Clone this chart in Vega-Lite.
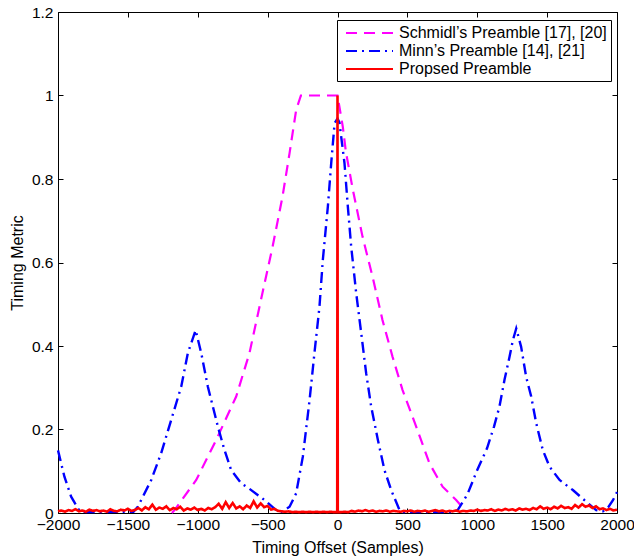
{
  "$schema": "https://vega.github.io/schema/vega-lite/v6.json",
  "width": 559,
  "height": 501,
  "autosize": {"type": "none"},
  "padding": {"left": 58, "top": 12, "right": 17, "bottom": 46},
  "background": "white",
  "config": {
    "font": "Liberation Sans",
    "view": {"stroke": "black", "strokeWidth": 1},
    "axis": {
      "domain": false,
      "grid": false,
      "tickSize": -5,
      "tickColor": "black",
      "tickWidth": 1,
      "labelFont": "Liberation Sans",
      "labelFontSize": 15.5,
      "labelColor": "black",
      "titleFont": "Liberation Sans",
      "titleFontSize": 16,
      "titleFontWeight": "normal",
      "titleColor": "black"
    }
  },
  "data": {
    "values": [
      {"series": "Schmidl’s Preamble [17], [20]", "x": -1185, "y": 0.0},
      {"series": "Schmidl’s Preamble [17], [20]", "x": -1166, "y": 0.007},
      {"series": "Schmidl’s Preamble [17], [20]", "x": -1011, "y": 0.079},
      {"series": "Schmidl’s Preamble [17], [20]", "x": -868, "y": 0.175},
      {"series": "Schmidl’s Preamble [17], [20]", "x": -725, "y": 0.279},
      {"series": "Schmidl’s Preamble [17], [20]", "x": -630, "y": 0.383},
      {"series": "Schmidl’s Preamble [17], [20]", "x": -537, "y": 0.527},
      {"series": "Schmidl’s Preamble [17], [20]", "x": -465, "y": 0.637},
      {"series": "Schmidl’s Preamble [17], [20]", "x": -394, "y": 0.757},
      {"series": "Schmidl’s Preamble [17], [20]", "x": -343, "y": 0.862},
      {"series": "Schmidl’s Preamble [17], [20]", "x": -296, "y": 0.965},
      {"series": "Schmidl’s Preamble [17], [20]", "x": -262, "y": 1.0},
      {"series": "Schmidl’s Preamble [17], [20]", "x": 0, "y": 1.0},
      {"series": "Schmidl’s Preamble [17], [20]", "x": 38, "y": 0.925},
      {"series": "Schmidl’s Preamble [17], [20]", "x": 60, "y": 0.865},
      {"series": "Schmidl’s Preamble [17], [20]", "x": 110, "y": 0.774},
      {"series": "Schmidl’s Preamble [17], [20]", "x": 179, "y": 0.662},
      {"series": "Schmidl’s Preamble [17], [20]", "x": 251, "y": 0.566},
      {"series": "Schmidl’s Preamble [17], [20]", "x": 322, "y": 0.462},
      {"series": "Schmidl’s Preamble [17], [20]", "x": 394, "y": 0.374},
      {"series": "Schmidl’s Preamble [17], [20]", "x": 465, "y": 0.295},
      {"series": "Schmidl’s Preamble [17], [20]", "x": 563, "y": 0.207},
      {"series": "Schmidl’s Preamble [17], [20]", "x": 658, "y": 0.119},
      {"series": "Schmidl’s Preamble [17], [20]", "x": 752, "y": 0.063},
      {"series": "Schmidl’s Preamble [17], [20]", "x": 849, "y": 0.031},
      {"series": "Schmidl’s Preamble [17], [20]", "x": 921, "y": 0.003},

      {"series": "Minn’s Preamble [14], [21]", "x": -2000, "y": 0.15},
      {"series": "Minn’s Preamble [14], [21]", "x": -1954, "y": 0.087},
      {"series": "Minn’s Preamble [14], [21]", "x": -1906, "y": 0.039},
      {"series": "Minn’s Preamble [14], [21]", "x": -1846, "y": 0.005},
      {"series": "Minn’s Preamble [14], [21]", "x": -1800, "y": 0.002},
      {"series": "Minn’s Preamble [14], [21]", "x": -1460, "y": 0.003},
      {"series": "Minn’s Preamble [14], [21]", "x": -1429, "y": 0.015},
      {"series": "Minn’s Preamble [14], [21]", "x": -1333, "y": 0.079},
      {"series": "Minn’s Preamble [14], [21]", "x": -1262, "y": 0.143},
      {"series": "Minn’s Preamble [14], [21]", "x": -1190, "y": 0.223},
      {"series": "Minn’s Preamble [14], [21]", "x": -1118, "y": 0.303},
      {"series": "Minn’s Preamble [14], [21]", "x": -1071, "y": 0.383},
      {"series": "Minn’s Preamble [14], [21]", "x": -1015, "y": 0.438},
      {"series": "Minn’s Preamble [14], [21]", "x": -975, "y": 0.383},
      {"series": "Minn’s Preamble [14], [21]", "x": -928, "y": 0.303},
      {"series": "Minn’s Preamble [14], [21]", "x": -856, "y": 0.207},
      {"series": "Minn’s Preamble [14], [21]", "x": -809, "y": 0.151},
      {"series": "Minn’s Preamble [14], [21]", "x": -761, "y": 0.103},
      {"series": "Minn’s Preamble [14], [21]", "x": -689, "y": 0.071},
      {"series": "Minn’s Preamble [14], [21]", "x": -630, "y": 0.058},
      {"series": "Minn’s Preamble [14], [21]", "x": -522, "y": 0.031},
      {"series": "Minn’s Preamble [14], [21]", "x": -439, "y": 0.007},
      {"series": "Minn’s Preamble [14], [21]", "x": -400, "y": 0.003},
      {"series": "Minn’s Preamble [14], [21]", "x": -343, "y": 0.015},
      {"series": "Minn’s Preamble [14], [21]", "x": -296, "y": 0.047},
      {"series": "Minn’s Preamble [14], [21]", "x": -248, "y": 0.135},
      {"series": "Minn’s Preamble [14], [21]", "x": -200, "y": 0.27},
      {"series": "Minn’s Preamble [14], [21]", "x": -165, "y": 0.383},
      {"series": "Minn’s Preamble [14], [21]", "x": -129, "y": 0.494},
      {"series": "Minn’s Preamble [14], [21]", "x": -105, "y": 0.606},
      {"series": "Minn’s Preamble [14], [21]", "x": -69, "y": 0.734},
      {"series": "Minn’s Preamble [14], [21]", "x": -45, "y": 0.838},
      {"series": "Minn’s Preamble [14], [21]", "x": -21, "y": 0.933},
      {"series": "Minn’s Preamble [14], [21]", "x": 0, "y": 0.945},
      {"series": "Minn’s Preamble [14], [21]", "x": 14, "y": 0.935},
      {"series": "Minn’s Preamble [14], [21]", "x": 50, "y": 0.838},
      {"series": "Minn’s Preamble [14], [21]", "x": 74, "y": 0.734},
      {"series": "Minn’s Preamble [14], [21]", "x": 98, "y": 0.638},
      {"series": "Minn’s Preamble [14], [21]", "x": 134, "y": 0.526},
      {"series": "Minn’s Preamble [14], [21]", "x": 170, "y": 0.43},
      {"series": "Minn’s Preamble [14], [21]", "x": 205, "y": 0.335},
      {"series": "Minn’s Preamble [14], [21]", "x": 241, "y": 0.255},
      {"series": "Minn’s Preamble [14], [21]", "x": 289, "y": 0.175},
      {"series": "Minn’s Preamble [14], [21]", "x": 336, "y": 0.103},
      {"series": "Minn’s Preamble [14], [21]", "x": 384, "y": 0.055},
      {"series": "Minn’s Preamble [14], [21]", "x": 444, "y": 0.007},
      {"series": "Minn’s Preamble [14], [21]", "x": 470, "y": 0.002},
      {"series": "Minn’s Preamble [14], [21]", "x": 830, "y": 0.002},
      {"series": "Minn’s Preamble [14], [21]", "x": 860, "y": 0.007},
      {"series": "Minn’s Preamble [14], [21]", "x": 930, "y": 0.045},
      {"series": "Minn’s Preamble [14], [21]", "x": 1000, "y": 0.103},
      {"series": "Minn’s Preamble [14], [21]", "x": 1070, "y": 0.155},
      {"series": "Minn’s Preamble [14], [21]", "x": 1120, "y": 0.207},
      {"series": "Minn’s Preamble [14], [21]", "x": 1159, "y": 0.255},
      {"series": "Minn’s Preamble [14], [21]", "x": 1195, "y": 0.319},
      {"series": "Minn’s Preamble [14], [21]", "x": 1231, "y": 0.374},
      {"series": "Minn’s Preamble [14], [21]", "x": 1255, "y": 0.414},
      {"series": "Minn’s Preamble [14], [21]", "x": 1279, "y": 0.442},
      {"series": "Minn’s Preamble [14], [21]", "x": 1314, "y": 0.398},
      {"series": "Minn’s Preamble [14], [21]", "x": 1350, "y": 0.326},
      {"series": "Minn’s Preamble [14], [21]", "x": 1386, "y": 0.279},
      {"series": "Minn’s Preamble [14], [21]", "x": 1422, "y": 0.215},
      {"series": "Minn’s Preamble [14], [21]", "x": 1469, "y": 0.151},
      {"series": "Minn’s Preamble [14], [21]", "x": 1517, "y": 0.111},
      {"series": "Minn’s Preamble [14], [21]", "x": 1589, "y": 0.079},
      {"series": "Minn’s Preamble [14], [21]", "x": 1684, "y": 0.055},
      {"series": "Minn’s Preamble [14], [21]", "x": 1780, "y": 0.027},
      {"series": "Minn’s Preamble [14], [21]", "x": 1851, "y": 0.007},
      {"series": "Minn’s Preamble [14], [21]", "x": 1900, "y": 0.004},
      {"series": "Minn’s Preamble [14], [21]", "x": 1940, "y": 0.015},
      {"series": "Minn’s Preamble [14], [21]", "x": 1970, "y": 0.03},
      {"series": "Minn’s Preamble [14], [21]", "x": 2000, "y": 0.05},

      {"series": "Propsed Preamble", "x": -2000, "y": 0.004},
      {"series": "Propsed Preamble", "x": -1975, "y": 0.006},
      {"series": "Propsed Preamble", "x": -1950, "y": 0.003},
      {"series": "Propsed Preamble", "x": -1925, "y": 0.007},
      {"series": "Propsed Preamble", "x": -1900, "y": 0.005},
      {"series": "Propsed Preamble", "x": -1875, "y": 0.009},
      {"series": "Propsed Preamble", "x": -1850, "y": 0.004},
      {"series": "Propsed Preamble", "x": -1825, "y": 0.006},
      {"series": "Propsed Preamble", "x": -1800, "y": 0.003},
      {"series": "Propsed Preamble", "x": -1775, "y": 0.008},
      {"series": "Propsed Preamble", "x": -1750, "y": 0.005},
      {"series": "Propsed Preamble", "x": -1725, "y": 0.007},
      {"series": "Propsed Preamble", "x": -1700, "y": 0.004},
      {"series": "Propsed Preamble", "x": -1675, "y": 0.006},
      {"series": "Propsed Preamble", "x": -1650, "y": 0.003},
      {"series": "Propsed Preamble", "x": -1625, "y": 0.009},
      {"series": "Propsed Preamble", "x": -1600, "y": 0.005},
      {"series": "Propsed Preamble", "x": -1575, "y": 0.004},
      {"series": "Propsed Preamble", "x": -1550, "y": 0.008},
      {"series": "Propsed Preamble", "x": -1525, "y": 0.006},
      {"series": "Propsed Preamble", "x": -1500, "y": 0.010},
      {"series": "Propsed Preamble", "x": -1475, "y": 0.005},
      {"series": "Propsed Preamble", "x": -1450, "y": 0.007},
      {"series": "Propsed Preamble", "x": -1425, "y": 0.012},
      {"series": "Propsed Preamble", "x": -1400, "y": 0.006},
      {"series": "Propsed Preamble", "x": -1375, "y": 0.014},
      {"series": "Propsed Preamble", "x": -1350, "y": 0.009},
      {"series": "Propsed Preamble", "x": -1325, "y": 0.020},
      {"series": "Propsed Preamble", "x": -1300, "y": 0.008},
      {"series": "Propsed Preamble", "x": -1275, "y": 0.013},
      {"series": "Propsed Preamble", "x": -1250, "y": 0.010},
      {"series": "Propsed Preamble", "x": -1225, "y": 0.016},
      {"series": "Propsed Preamble", "x": -1200, "y": 0.007},
      {"series": "Propsed Preamble", "x": -1175, "y": 0.012},
      {"series": "Propsed Preamble", "x": -1150, "y": 0.009},
      {"series": "Propsed Preamble", "x": -1125, "y": 0.015},
      {"series": "Propsed Preamble", "x": -1100, "y": 0.006},
      {"series": "Propsed Preamble", "x": -1075, "y": 0.011},
      {"series": "Propsed Preamble", "x": -1050, "y": 0.008},
      {"series": "Propsed Preamble", "x": -1025, "y": 0.013},
      {"series": "Propsed Preamble", "x": -1000, "y": 0.007},
      {"series": "Propsed Preamble", "x": -975, "y": 0.010},
      {"series": "Propsed Preamble", "x": -950, "y": 0.006},
      {"series": "Propsed Preamble", "x": -925, "y": 0.012},
      {"series": "Propsed Preamble", "x": -900, "y": 0.009},
      {"series": "Propsed Preamble", "x": -875, "y": 0.014},
      {"series": "Propsed Preamble", "x": -850, "y": 0.022},
      {"series": "Propsed Preamble", "x": -825, "y": 0.010},
      {"series": "Propsed Preamble", "x": -800, "y": 0.026},
      {"series": "Propsed Preamble", "x": -775, "y": 0.012},
      {"series": "Propsed Preamble", "x": -750, "y": 0.024},
      {"series": "Propsed Preamble", "x": -725, "y": 0.011},
      {"series": "Propsed Preamble", "x": -700, "y": 0.016},
      {"series": "Propsed Preamble", "x": -675, "y": 0.009},
      {"series": "Propsed Preamble", "x": -650, "y": 0.018},
      {"series": "Propsed Preamble", "x": -625, "y": 0.012},
      {"series": "Propsed Preamble", "x": -600, "y": 0.028},
      {"series": "Propsed Preamble", "x": -575, "y": 0.013},
      {"series": "Propsed Preamble", "x": -550, "y": 0.023},
      {"series": "Propsed Preamble", "x": -525, "y": 0.014},
      {"series": "Propsed Preamble", "x": -500, "y": 0.017},
      {"series": "Propsed Preamble", "x": -475, "y": 0.008},
      {"series": "Propsed Preamble", "x": -450, "y": 0.010},
      {"series": "Propsed Preamble", "x": -425, "y": 0.005},
      {"series": "Propsed Preamble", "x": -400, "y": 0.004},
      {"series": "Propsed Preamble", "x": -375, "y": 0.003},
      {"series": "Propsed Preamble", "x": -350, "y": 0.004},
      {"series": "Propsed Preamble", "x": -325, "y": 0.002},
      {"series": "Propsed Preamble", "x": -300, "y": 0.003},
      {"series": "Propsed Preamble", "x": -275, "y": 0.002},
      {"series": "Propsed Preamble", "x": -250, "y": 0.003},
      {"series": "Propsed Preamble", "x": -225, "y": 0.002},
      {"series": "Propsed Preamble", "x": -200, "y": 0.003},
      {"series": "Propsed Preamble", "x": -175, "y": 0.002},
      {"series": "Propsed Preamble", "x": -150, "y": 0.003},
      {"series": "Propsed Preamble", "x": -125, "y": 0.002},
      {"series": "Propsed Preamble", "x": -100, "y": 0.003},
      {"series": "Propsed Preamble", "x": -75, "y": 0.002},
      {"series": "Propsed Preamble", "x": -50, "y": 0.003},
      {"series": "Propsed Preamble", "x": -25, "y": 0.002},
      {"series": "Propsed Preamble", "x": -2, "y": 0.002},
      {"series": "Propsed Preamble", "x": 0, "y": 1.0},
      {"series": "Propsed Preamble", "x": 2, "y": 0.002},
      {"series": "Propsed Preamble", "x": 25, "y": 0.002},
      {"series": "Propsed Preamble", "x": 50, "y": 0.003},
      {"series": "Propsed Preamble", "x": 75, "y": 0.002},
      {"series": "Propsed Preamble", "x": 100, "y": 0.005},
      {"series": "Propsed Preamble", "x": 125, "y": 0.003},
      {"series": "Propsed Preamble", "x": 150, "y": 0.006},
      {"series": "Propsed Preamble", "x": 175, "y": 0.004},
      {"series": "Propsed Preamble", "x": 200, "y": 0.007},
      {"series": "Propsed Preamble", "x": 225, "y": 0.004},
      {"series": "Propsed Preamble", "x": 250, "y": 0.006},
      {"series": "Propsed Preamble", "x": 275, "y": 0.003},
      {"series": "Propsed Preamble", "x": 300, "y": 0.005},
      {"series": "Propsed Preamble", "x": 325, "y": 0.004},
      {"series": "Propsed Preamble", "x": 350, "y": 0.006},
      {"series": "Propsed Preamble", "x": 375, "y": 0.003},
      {"series": "Propsed Preamble", "x": 400, "y": 0.005},
      {"series": "Propsed Preamble", "x": 425, "y": 0.004},
      {"series": "Propsed Preamble", "x": 450, "y": 0.003},
      {"series": "Propsed Preamble", "x": 475, "y": 0.005},
      {"series": "Propsed Preamble", "x": 500, "y": 0.004},
      {"series": "Propsed Preamble", "x": 525, "y": 0.006},
      {"series": "Propsed Preamble", "x": 550, "y": 0.003},
      {"series": "Propsed Preamble", "x": 575, "y": 0.005},
      {"series": "Propsed Preamble", "x": 600, "y": 0.004},
      {"series": "Propsed Preamble", "x": 625, "y": 0.006},
      {"series": "Propsed Preamble", "x": 650, "y": 0.003},
      {"series": "Propsed Preamble", "x": 675, "y": 0.005},
      {"series": "Propsed Preamble", "x": 700, "y": 0.007},
      {"series": "Propsed Preamble", "x": 725, "y": 0.004},
      {"series": "Propsed Preamble", "x": 750, "y": 0.006},
      {"series": "Propsed Preamble", "x": 775, "y": 0.003},
      {"series": "Propsed Preamble", "x": 800, "y": 0.005},
      {"series": "Propsed Preamble", "x": 825, "y": 0.004},
      {"series": "Propsed Preamble", "x": 850, "y": 0.006},
      {"series": "Propsed Preamble", "x": 875, "y": 0.003},
      {"series": "Propsed Preamble", "x": 900, "y": 0.005},
      {"series": "Propsed Preamble", "x": 925, "y": 0.004},
      {"series": "Propsed Preamble", "x": 950, "y": 0.006},
      {"series": "Propsed Preamble", "x": 975, "y": 0.005},
      {"series": "Propsed Preamble", "x": 1000, "y": 0.008},
      {"series": "Propsed Preamble", "x": 1025, "y": 0.005},
      {"series": "Propsed Preamble", "x": 1050, "y": 0.007},
      {"series": "Propsed Preamble", "x": 1075, "y": 0.006},
      {"series": "Propsed Preamble", "x": 1100, "y": 0.009},
      {"series": "Propsed Preamble", "x": 1125, "y": 0.005},
      {"series": "Propsed Preamble", "x": 1150, "y": 0.008},
      {"series": "Propsed Preamble", "x": 1175, "y": 0.006},
      {"series": "Propsed Preamble", "x": 1200, "y": 0.010},
      {"series": "Propsed Preamble", "x": 1225, "y": 0.007},
      {"series": "Propsed Preamble", "x": 1250, "y": 0.009},
      {"series": "Propsed Preamble", "x": 1275, "y": 0.006},
      {"series": "Propsed Preamble", "x": 1300, "y": 0.011},
      {"series": "Propsed Preamble", "x": 1325, "y": 0.008},
      {"series": "Propsed Preamble", "x": 1350, "y": 0.010},
      {"series": "Propsed Preamble", "x": 1375, "y": 0.007},
      {"series": "Propsed Preamble", "x": 1400, "y": 0.012},
      {"series": "Propsed Preamble", "x": 1425, "y": 0.009},
      {"series": "Propsed Preamble", "x": 1450, "y": 0.016},
      {"series": "Propsed Preamble", "x": 1475, "y": 0.010},
      {"series": "Propsed Preamble", "x": 1500, "y": 0.013},
      {"series": "Propsed Preamble", "x": 1525, "y": 0.009},
      {"series": "Propsed Preamble", "x": 1550, "y": 0.015},
      {"series": "Propsed Preamble", "x": 1575, "y": 0.011},
      {"series": "Propsed Preamble", "x": 1600, "y": 0.017},
      {"series": "Propsed Preamble", "x": 1625, "y": 0.012},
      {"series": "Propsed Preamble", "x": 1650, "y": 0.014},
      {"series": "Propsed Preamble", "x": 1675, "y": 0.010},
      {"series": "Propsed Preamble", "x": 1700, "y": 0.019},
      {"series": "Propsed Preamble", "x": 1725, "y": 0.013},
      {"series": "Propsed Preamble", "x": 1750, "y": 0.021},
      {"series": "Propsed Preamble", "x": 1775, "y": 0.015},
      {"series": "Propsed Preamble", "x": 1800, "y": 0.018},
      {"series": "Propsed Preamble", "x": 1825, "y": 0.012},
      {"series": "Propsed Preamble", "x": 1850, "y": 0.016},
      {"series": "Propsed Preamble", "x": 1875, "y": 0.009},
      {"series": "Propsed Preamble", "x": 1900, "y": 0.011},
      {"series": "Propsed Preamble", "x": 1925, "y": 0.007},
      {"series": "Propsed Preamble", "x": 1950, "y": 0.010},
      {"series": "Propsed Preamble", "x": 1975, "y": 0.006},
      {"series": "Propsed Preamble", "x": 2000, "y": 0.008}
    ]
  },
  "encoding": {
    "color": {
      "field": "series",
      "type": "nominal",
      "scale": {
        "domain": ["Schmidl’s Preamble [17], [20]", "Minn’s Preamble [14], [21]", "Propsed Preamble"],
        "range": ["#FF00FF", "#0000FF", "#FF0000"]
      },
      "legend": {
        "title": null,
        "orient": "none",
        "legendX": 279,
        "legendY": 8,
        "direction": "vertical",
        "fillColor": "white",
        "strokeColor": "black",
        "padding": 4,
        "rowPadding": 1,
        "symbolType": "M-1,0H4.875",
        "symbolSize": 256,
        "symbolStrokeWidth": 2,
        "symbolOffset": 4,
        "labelOffset": 36,
        "labelFont": "Liberation Sans",
        "labelFontSize": 16,
        "labelColor": "black",
        "labelLimit": 400
      }
    },
    "strokeDash": {
      "field": "series",
      "type": "nominal",
      "scale": {
        "domain": ["Schmidl’s Preamble [17], [20]", "Minn’s Preamble [14], [21]", "Propsed Preamble"],
        "range": [[11, 7], [11, 5, 2, 5], [1, 0]]
      },
      "legend": {
        "title": null,
        "orient": "none",
        "legendX": 279,
        "legendY": 8,
        "direction": "vertical",
        "fillColor": "white",
        "strokeColor": "black",
        "padding": 4,
        "rowPadding": 1,
        "symbolType": "M-1,0H4.875",
        "symbolSize": 256,
        "symbolStrokeWidth": 2,
        "symbolOffset": 4,
        "labelOffset": 36,
        "labelFont": "Liberation Sans",
        "labelFontSize": 16,
        "labelColor": "black",
        "labelLimit": 400
      }
    }
  },
  "layer": [
    {
      "transform": [{"filter": "datum.series === 'Schmidl’s Preamble [17], [20]'"}],
      "mark": {"type": "line", "strokeWidth": 2.2},
      "encoding": {
        "x": {
          "field": "x", "type": "quantitative",
          "scale": {"domain": [-2000, 2000], "nice": false, "zero": false},
          "axis": {"orient": "bottom", "values": [-2000, -1500, -1000, -500, 0, 500, 1000, 1500, 2000], "format": "d", "labelPadding": 9, "title": "Timing Offset (Samples)", "titlePadding": 7, "labelFlush": false}
        },
        "y": {
          "field": "y", "type": "quantitative",
          "scale": {"domain": [0, 1.2], "nice": false},
          "axis": {"orient": "left", "values": [0, 0.2, 0.4, 0.6, 0.8, 1, 1.2], "format": "~g", "labelPadding": 10, "title": "Timing Metric", "titlePadding": 6}
        }
      }
    },
    {
      "transform": [{"filter": "datum.series === 'Minn’s Preamble [14], [21]'"}],
      "mark": {"type": "line", "strokeWidth": 2.4},
      "encoding": {
        "x": {"field": "x", "type": "quantitative", "scale": {"domain": [-2000, 2000], "nice": false, "zero": false}, "axis": null},
        "y": {"field": "y", "type": "quantitative", "scale": {"domain": [0, 1.2], "nice": false}, "axis": null}
      }
    },
    {
      "transform": [{"filter": "datum.series === 'Propsed Preamble'"}],
      "mark": {"type": "line", "strokeWidth": 2.6},
      "encoding": {
        "x": {"field": "x", "type": "quantitative", "scale": {"domain": [-2000, 2000], "nice": false, "zero": false}, "axis": null},
        "y": {"field": "y", "type": "quantitative", "scale": {"domain": [0, 1.2], "nice": false}, "axis": null}
      }
    },
    {
      "transform": [{"filter": "datum.series === 'Propsed Preamble'"}],
      "mark": {"type": "rule", "opacity": 0},
      "encoding": {
        "color": {"value": "black"},
        "strokeDash": {"value": [1, 0]},
        "x": {"field": "x", "type": "quantitative", "scale": {"domain": [-2000, 2000], "nice": false, "zero": false},
              "axis": {"orient": "top", "values": [-2000, -1500, -1000, -500, 0, 500, 1000, 1500, 2000], "labels": false, "title": null}},
        "y": {"field": "y", "type": "quantitative", "scale": {"domain": [0, 1.2], "nice": false},
              "axis": {"orient": "right", "values": [0, 0.2, 0.4, 0.6, 0.8, 1, 1.2], "labels": false, "title": null}}
      }
    }
  ],
  "resolve": {"axis": {"x": "independent", "y": "independent"}}
}
